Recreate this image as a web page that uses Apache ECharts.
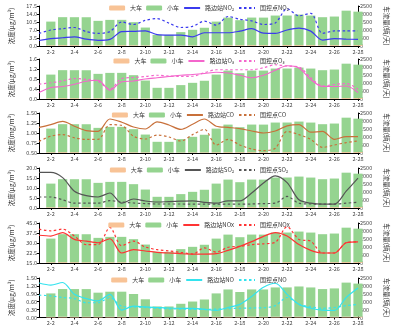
<!DOCTYPE html>
<html><head><meta charset="utf-8">
<script src="https://cdn.jsdelivr.net/npm/echarts@6/dist/echarts.min.js"></script>
<style>html,body{margin:0;padding:0;background:#fff}#c{width:398px;height:326px}</style>
</head><body><div id="c"></div><script>
const dates = ['2-1','2-2','2-3','2-4','2-5','2-6','2-7','2-8','2-9','2-10','2-11','2-12','2-13','2-14','2-15','2-16','2-17','2-18','2-19','2-20','2-21','2-22','2-23','2-24','2-25','2-26','2-27','2-28'];
const bigCar = ['-',45,52,50,48,46,47,49,44,38,30,28,33,36,40,45,50,48,52,50,53,55,54,52,50,51,58,56];
const smallCar = ['-',1480,1750,1750,1750,1525,1585,1585,1445,1115,670,670,835,975,1100,1480,1725,1565,1725,1725,1850,1850,1910,1850,1750,1790,2150,2090];

const p1Road = [2.4,3.2,3.6,4.0,3.0,2.5,2.9,6.3,6.4,6.6,5.0,4.8,4.8,4.0,5.8,5.8,5.8,6.5,7.6,5.6,5.5,7.0,7.8,6.5,2.6,3.2,3.0,2.9];
const p1Ctrl = [5.5,7.0,7.6,8.1,6.3,5.5,6.3,10.5,9.4,11.2,12.0,10.0,8.1,8.6,10.9,9.1,12.9,11.7,11.0,9.4,10.1,16.3,13.2,14.3,5.5,6.6,6.6,6.6];
const p2Road = [0.26,0.46,0.50,0.59,0.71,0.75,0.35,0.69,0.72,0.80,0.85,0.90,0.95,0.98,1.02,1.07,1.04,0.95,0.85,0.95,1.15,1.33,1.24,0.78,0.50,0.50,0.52,0.26];
const p2Ctrl = [0.59,0.65,0.72,0.82,0.78,0.71,0.39,0.82,0.86,0.90,0.95,0.92,0.90,0.91,1.05,1.17,1.17,1.17,1.17,1.25,1.37,1.32,1.28,0.85,0.52,0.58,0.62,0.39];
const p3Road = [1.14,1.21,1.29,1.17,1.06,1.04,1.35,1.27,1.15,1.10,1.28,1.20,1.09,1.22,1.35,1.17,1.14,1.11,1.05,1.00,1.05,1.18,1.21,1.02,1.04,0.84,0.91,0.91];
const p3Ctrl = [0.79,0.92,0.96,0.88,0.84,0.84,1.21,1.19,0.92,0.85,0.95,0.90,0.80,0.96,1.09,0.70,0.84,0.70,0.60,0.56,0.62,1.04,0.96,0.84,0.64,0.70,0.76,0.80];
const p4Road = [17.8,17.8,15.2,8.4,6.2,5.5,7.5,2.4,4.5,3.5,3.0,3.2,3.4,3.6,2.8,2.4,3.6,3.6,7.5,12.5,16.1,12.7,4.1,2.4,1.9,1.9,8.4,14.9];
const p4Ctrl = [5.5,5.5,4.1,2.4,2.4,2.4,3.7,3.0,2.5,2.2,2.0,2.0,2.0,1.9,1.9,1.9,1.9,1.9,2.0,2.2,2.4,5.8,2.4,2.0,1.9,1.9,2.4,2.9];
const p5Road = [35.8,35.2,37.8,32.7,31.4,30.2,33.2,22.5,25.0,24.0,23.0,22.5,22.0,21.7,21.7,22.0,24.5,27.5,31.0,35.0,37.8,35.2,28.8,24.5,22.5,22.5,30.2,30.9];
const p5Ctrl = [40.4,39.1,40.4,35.2,28.8,28.8,41.7,28.0,31.4,27.0,25.0,24.0,23.0,21.7,26.3,23.2,26.8,27.5,28.8,29.4,30.5,42.2,32.7,31.4,22.5,22.5,30.2,30.9];
const p6Road = [1.31,1.23,1.33,0.88,0.72,0.63,0.88,0.28,0.43,0.40,0.38,0.36,0.35,0.35,0.31,0.27,0.38,0.50,0.80,1.15,1.30,0.88,0.50,0.35,0.28,0.27,0.76,1.12];
const p6Ctrl = [0.85,0.82,0.76,0.72,0.56,0.56,0.76,0.43,0.40,0.38,0.35,0.33,0.32,0.31,0.31,0.32,0.34,0.35,0.36,0.37,0.45,0.76,0.50,0.40,0.35,0.38,0.45,0.50];

const panels = [
  {road:p1Road, ctrl:p1Ctrl, rName:'路边站NO₂', cName:'国控点NO₂', color:'#3b3bee', min:0, max:17.5, interval:3.5, dec:1, unit:'浓度(μg/m³)'},
  {road:p2Road, ctrl:p2Ctrl, rName:'路边站O₃', cName:'国控点O₃', color:'#f466cc', min:0, max:1.6, interval:0.4, dec:1, unit:'浓度(μg/m³)'},
  {road:p3Road, ctrl:p3Ctrl, rName:'路边站CO', cName:'国控点CO', color:'#c8703a', min:0.5, max:1.5, interval:0.25, dec:2, unit:'浓度(mg/m³)'},
  {road:p4Road, ctrl:p4Ctrl, rName:'路边站SO₂', cName:'国控点SO₂', color:'#555555', min:0, max:20, interval:5, dec:1, unit:'浓度(μg/m³)'},
  {road:p5Road, ctrl:p5Ctrl, rName:'路边站NOx', cName:'国控点NOx', color:'#ff3333', min:15, max:45, interval:7.5, dec:1, unit:'浓度(μg/m³)'},
  {road:p6Road, ctrl:p6Ctrl, rName:'路边站NO', cName:'国控点NO', color:'#33e3ee', min:0, max:1.5, interval:0.3, dec:2, unit:'浓度(μg/m³)'}
];
const tops = [6,59,113,168,223,278];
const H = 40;
const everyOther = (i) => i % 2 === 1;

const grid=[], xAxis=[], yAxis=[], series=[], legend=[];
panels.forEach((p,i)=>{
  grid.push({left:39, right:40, top:tops[i], height:H});
  xAxis.push({type:'category', gridIndex:i, data:dates, boundaryGap:false,
    axisLine:{lineStyle:{color:'#000',width:1}},
    axisTick:{interval:everyOther, length:2, lineStyle:{color:'#000'}},
    axisLabel:{interval:everyOther, fontSize:5.5, color:'#444', margin:3}});
  yAxis.push({type:'value', gridIndex:i, min:p.min, max:p.max, interval:p.interval,
    axisLine:{show:true, lineStyle:{color:'#000',width:1}},
    axisTick:{show:true, length:2, lineStyle:{color:'#000'}},
    splitLine:{show:false},
    axisLabel:{fontSize:5.5, color:'#444', margin:2, formatter:v=>v.toFixed(p.dec)},
    name:p.unit, nameLocation:'middle', nameGap:24, nameRotate:90,
    nameTextStyle:{fontSize:6.5, color:'#333'}});
  yAxis.push({type:'value', gridIndex:i, position:'right', min:0, max:2500, interval:500,
    axisLine:{show:true, lineStyle:{color:'#000',width:1}},
    axisTick:{show:true, length:2, lineStyle:{color:'#000'}},
    splitLine:{show:false},
    axisLabel:{fontSize:5.5, color:'#444', margin:2, formatter:v=>String(v)},
    name:'车流量(辆/天)', nameLocation:'middle', nameGap:20, nameRotate:-90,
    nameTextStyle:{fontSize:6.5, color:'#333'}});
  series.push({name:'大车', type:'bar', xAxisIndex:i, yAxisIndex:2*i+1, stack:'v'+i,
    barWidth:'78%', clip:true, data:bigCar, itemStyle:{color:'#f8c396'}});
  series.push({name:'小车', type:'bar', xAxisIndex:i, yAxisIndex:2*i+1, stack:'v'+i,
    barWidth:'78%', clip:true, data:smallCar, itemStyle:{color:'#95d490'}});
  series.push({name:p.rName, type:'line', xAxisIndex:i, yAxisIndex:2*i, data:p.road,
    symbol:'none', smooth:0.3, lineStyle:{color:p.color, width:1.2}, itemStyle:{color:p.color}});
  series.push({name:p.cName, type:'line', xAxisIndex:i, yAxisIndex:2*i, data:p.ctrl,
    symbol:'none', smooth:0.3, lineStyle:{color:p.color, width:1.2, type:[2.5,2.5]}, itemStyle:{color:p.color}});
  legend.push({top:tops[i]-6, left:'center', itemWidth:16, itemHeight:5, itemGap:4,
    textStyle:{fontSize:6, color:'#333'},
    data:['大车','小车',
      {name:p.rName, itemStyle:{opacity:0}},
      {name:p.cName, itemStyle:{opacity:0}}]});
});

const chart = echarts.init(document.getElementById('c'), null, {renderer:'canvas'});
chart.setOption({
  animation:false,
  textStyle:{fontFamily:'"Noto Sans CJK SC","Noto Sans",sans-serif'},
  grid, xAxis, yAxis, series, legend
});
</script></body></html>
